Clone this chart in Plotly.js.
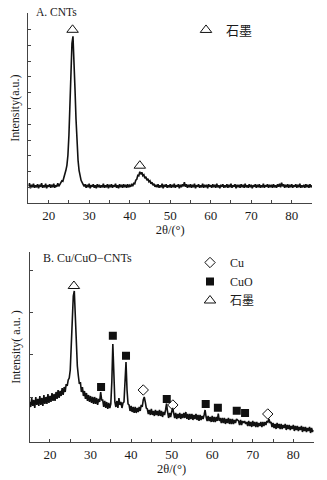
<!DOCTYPE html>
<html>
<head>
<meta charset="utf-8">
<script src="https://cdn.plot.ly/plotly-3.0.1.min.js"></script>
<style>html,body{margin:0;padding:0;background:#fff;}#chart{width:327px;height:480px;}</style>
</head>
<body>
<div id="chart"></div>
<script>
// Diffractograms are sampled on a uniform 2θ grid: 15° to 85° in 0.25° steps.
const angleStart = 15;
const angleStep = 0.25;

// ---- Panel A: CNTs (intensity, arbitrary units; one row = 2° of 2θ) ----
const cntIntensity = [
  17, 20, 15, 18.5, 16, 19.5, 15.5, 18,
  16, 19, 15, 18.5, 16.5, 20, 15.5, 18,
  16, 19.5, 15, 18, 16.5, 19, 15.5, 18.5,
  16, 19.5, 15.5, 18, 16.5, 20, 17, 19.5,
  20, 22.5, 22, 25, 28, 33, 38, 48,
  68, 98, 132, 160, 167, 146, 114, 84,
  60, 43, 33, 27, 23, 21, 19.5, 17,
  19, 15.5, 18.5, 16, 19.5, 15, 18, 16.5,
  19, 15.5, 18, 15, 19, 16, 18.5, 15.5,
  18, 16, 19.5, 15.5, 18, 16, 19, 15,
  18.5, 16, 19, 15.5, 18, 16.5, 19.5, 15.5,
  18, 15, 19, 16, 18.5, 15.5, 19, 16,
  18.5, 15.5, 19, 16, 18, 16.5, 19.5, 17,
  20, 19.5, 23, 24, 28, 27.5, 31.5, 29,
  31, 27.5, 28.5, 25, 26.5, 23, 24.5, 21.5,
  22.5, 19.5, 21, 18, 19.5, 16.5, 18.5, 16,
  19, 15.5, 18, 16, 19.5, 15, 18.5, 16.5,
  19, 15.5, 18, 16, 19, 15.5, 18.5, 16,
  19.5, 15.5, 18, 16.5, 19, 15, 18.5, 16,
  19, 17, 21, 16.5, 19, 15.5, 18.5, 16,
  19, 15.5, 18.5, 16, 19.5, 15, 18, 16.5,
  19, 15.5, 18, 16, 19.5, 15.5, 18.5, 16,
  18.5, 15, 19, 16.5, 18, 15.5, 19, 16,
  18.5, 15.5, 19.5, 16, 18, 15, 18.5, 16.5,
  19, 15.5, 18, 16, 19, 15.5, 18.5, 16,
  19.5, 15.5, 18, 16.5, 19, 15, 18.5, 16,
  18.5, 15.5, 19, 16, 18.5, 15.5, 19.5, 16,
  18, 15.5, 19, 16, 18.5, 15, 18, 16.5,
  19, 15.5, 18.5, 16, 19, 15.5, 18, 16,
  19.5, 15.5, 18, 16.5, 19, 15.5, 18.5, 16,
  18.5, 15.5, 19, 16, 18, 15.5, 19, 16.5,
  19.5, 16, 20.5, 17, 19, 15.5, 18.5, 16,
  19, 15.5, 18.5, 16, 19, 15.5, 18, 16.5,
  19, 15.5, 18.5, 16, 19.5, 15.5, 18, 16,
  18.5, 15.5, 19, 16, 18.5, 15.5, 19, 16,
  18
];
const cntGraphiteAngle = [25.9, 42.5];
const cntGraphiteMark = [173.5, 37.6];

// ---- Panel B: Cu/CuO-CNTs (intensity, arbitrary units; one row = 2° of 2θ) ----
const compIntensity = [
  40, 35, 44, 36, 42, 34, 45, 37,
  43, 36, 46, 37, 44, 36, 47, 38,
  45, 38, 48, 39, 46, 40, 49, 41,
  48, 41, 50, 43, 52, 44, 51, 46,
  54, 47, 55, 50, 58, 56, 62, 64,
  72, 92, 122, 146, 151, 120, 96, 76,
  66, 58, 60, 50, 55, 46, 51, 43,
  49, 41, 47, 40, 46, 39, 45, 38,
  45, 38, 44, 37, 43, 40, 50, 42,
  42, 35, 41, 34, 40, 33, 39, 34,
  38, 60, 98, 55, 40, 35, 41, 34,
  44, 37, 40, 34, 39, 40, 62, 80,
  52, 38, 37, 31, 36, 30, 35, 29,
  35, 29, 34, 30, 35, 31, 37, 35,
  42, 45, 40, 34, 33, 28, 32, 27,
  33, 27, 31, 26, 32, 27, 31, 26,
  32, 26, 31, 25, 30, 27, 32, 38.5,
  30, 24, 29, 25, 30, 34, 29, 24,
  29, 23, 28, 24, 29, 23, 28, 24,
  29, 24, 30, 23, 28, 22, 28, 23,
  28, 22, 27, 23, 28, 22, 27, 21,
  27, 22, 26, 23, 27, 32, 25, 21,
  26, 21, 25, 20, 26, 20, 25, 20,
  25, 21, 28.5, 21, 24, 19, 24, 19,
  24, 18, 23, 19, 24, 18, 23, 18,
  23, 18, 22, 19, 23, 22, 21, 17,
  22, 17, 21, 19, 21, 18, 20, 16,
  21, 16, 20, 15, 21, 16, 20, 15,
  20, 15, 19, 16, 20, 15, 20, 16,
  20, 17, 21, 20, 23, 19, 20, 15,
  19, 14, 18, 13, 19, 14, 18, 13,
  18, 13, 17, 14, 18, 12, 17, 13,
  17, 12, 16, 13, 17, 11, 16, 12,
  16, 11, 15, 12, 16, 10, 15, 11,
  15, 10, 14, 11, 15, 9, 14, 10,
  12
];
const cuAngle = [43.0, 50.3, 73.7];
const cuMark = [52, 37, 28];
const cuoAngle = [32.6, 35.5, 38.75, 48.8, 58.4, 61.4, 66.05, 68.1];
const cuoMark = [55, 106.3, 86.3, 43, 38, 34.3, 31.3, 29];
const compGraphiteAngle = [25.9];
const compGraphiteMark = [156];

const xTickVals = [20, 30, 40, 50, 60, 70, 80];
const xTickText = ['20', '30', '40', '50', '60', '70', '80'];

const cntAngle = cntIntensity.map((_, i) => angleStart + angleStep * i);
const compAngle = compIntensity.map((_, i) => angleStart + angleStep * i);

const serif = "'Liberation Serif', 'Times New Roman', serif";
const legendFont = "'Liberation Serif', 'Noto Sans CJK SC', serif";
const ink = '#1a1a1a';
const axisColor = '#444';

const traces = [
  {x: cntAngle, y: cntIntensity, xaxis: 'x', yaxis: 'y', mode: 'lines',
   line: {color: '#111', width: 1.6}, showlegend: false, hoverinfo: 'skip'},
  {x: cntGraphiteAngle, y: cntGraphiteMark, xaxis: 'x', yaxis: 'y', mode: 'markers', name: '石墨',
   legend: 'legend',
   marker: {symbol: 'triangle-up-open', size: 10, color: '#111', line: {width: 1, color: '#111'}}},
  {x: compAngle, y: compIntensity, xaxis: 'x2', yaxis: 'y2', mode: 'lines',
   line: {color: '#111', width: 1.6}, showlegend: false, hoverinfo: 'skip'},
  {x: cuAngle, y: cuMark, xaxis: 'x2', yaxis: 'y2', mode: 'markers', name: 'Cu', legend: 'legend2',
   marker: {symbol: 'diamond-open', size: 8, color: '#111', line: {width: 1, color: '#111'}}},
  {x: cuoAngle, y: cuoMark, xaxis: 'x2', yaxis: 'y2', mode: 'markers', name: 'CuO', legend: 'legend2',
   marker: {symbol: 'square', size: 8, color: '#111', line: {width: 0}}},
  {x: compGraphiteAngle, y: compGraphiteMark, xaxis: 'x2', yaxis: 'y2', mode: 'markers', name: '石墨', legend: 'legend2',
   marker: {symbol: 'triangle-up-open', size: 10, color: '#111', line: {width: 1, color: '#111'}}}
];

function xAxis(domain, anchor) {
  return {
    domain: domain, anchor: anchor, range: [15, 85],
    showgrid: false, zeroline: false, showline: true, linecolor: axisColor, linewidth: 1,
    ticks: 'inside', ticklen: 3, tickcolor: axisColor, tickwidth: 1,
    tickvals: xTickVals, ticktext: xTickText,
    minor: {tickvals: [15, 25, 35, 45, 55, 65, 75, 85], ticks: 'inside', ticklen: 3, tickcolor: axisColor, tickwidth: 1},
    tickfont: {family: serif, size: 13, color: ink},
    title: {text: '2θ/(°)', font: {family: serif, size: 12.5, color: ink}, standoff: 2},
    automargin: false
  };
}
function yAxis(domain, anchor, range, ticks, title) {
  return {
    domain: domain, anchor: anchor, range: range,
    showgrid: false, zeroline: false, showline: true, linecolor: axisColor, linewidth: 1,
    ticks: 'inside', ticklen: 3, tickcolor: axisColor, tickwidth: 1,
    tickvals: ticks, showticklabels: false,
    title: {text: title, font: {family: serif, size: 12, color: ink}, standoff: 5},
    automargin: false
  };
}

const topTicks = [15.8, 31.6, 47.4, 63.2, 79, 94.8, 110.6, 126.4, 142.2, 158, 173.8, 189.6];
const botTicks = [44.8, 87.1, 129.4, 171.7, 189.6];

const layout = {
  width: 327, height: 480,
  margin: {l: 0, r: 0, t: 0, b: 0},
  paper_bgcolor: '#fff', plot_bgcolor: '#fff',
  xaxis: xAxis([0.0869, 0.9541], 'y'),
  yaxis: yAxis([0.5765, 0.9729], 'x', [0, 190.3], topTicks, 'Intensity(a.u.)'),
  xaxis2: xAxis([0.0908, 0.9590], 'y2'),
  yaxis2: yAxis([0.0792, 0.475], 'x2', [0, 190], botTicks, 'Intensity( a.u. )'),
  legend: {x: 186 / 327, y: 1 - 15 / 480, xanchor: 'left', yanchor: 'top',
           bgcolor: 'rgba(0,0,0,0)', borderwidth: 0,
           font: {family: legendFont, size: 13, color: ink}},
  legend2: {x: 190 / 327, y: 1 - 248 / 480, xanchor: 'left', yanchor: 'top',
            bgcolor: 'rgba(0,0,0,0)', borderwidth: 0, traceorder: 'normal',
            font: {family: legendFont, size: 12, color: ink}},
  annotations: [
    {text: 'A. CNTs', xref: 'paper', yref: 'paper', x: 34 / 327, y: 1 - 12.5 / 480,
     xanchor: 'left', yanchor: 'middle', showarrow: false,
     font: {family: serif, size: 11.5, color: ink}},
    {text: 'B. Cu/CuO−CNTs', xref: 'paper', yref: 'paper', x: 41 / 327, y: 1 - 258 / 480,
     xanchor: 'left', yanchor: 'middle', showarrow: false,
     font: {family: serif, size: 12, color: ink}}
  ],
  showlegend: true
};

Plotly.newPlot('chart', traces, layout, {staticPlot: true, displayModeBar: false});
</script>
</body>
</html>
